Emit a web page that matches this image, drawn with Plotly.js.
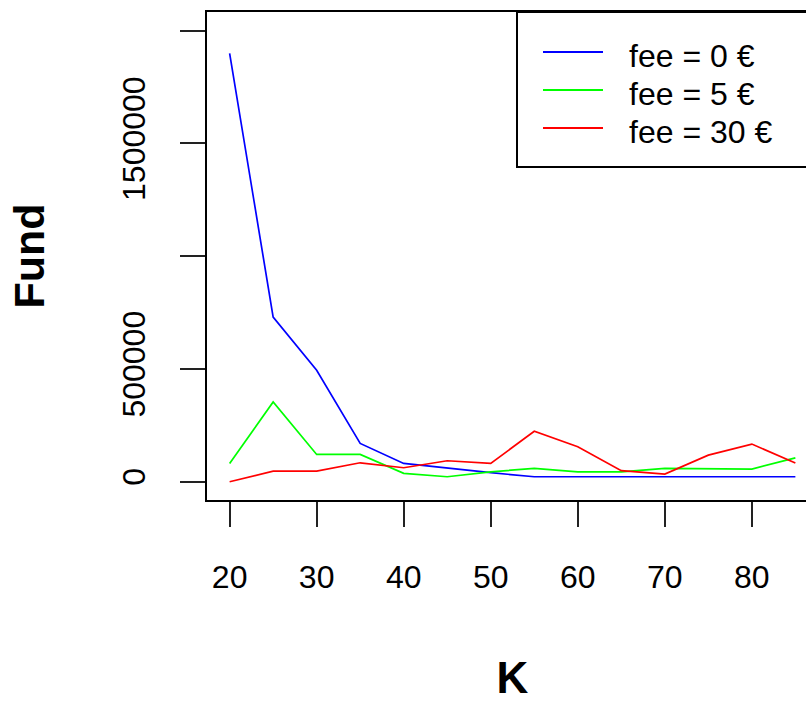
<!DOCTYPE html>
<html>
<head>
<meta charset="utf-8">
<script src="https://cdn.plot.ly/plotly-3.0.1.min.js"></script>
<style>
html,body{margin:0;padding:0;overflow:hidden;background:#fff;}
#chart{width:830px;height:706px;}
</style>
</head>
<body>
<div id="chart"></div>
<script>
// ---- data ----
const K = [20, 25, 30, 35, 40, 45, 50, 55, 60, 65, 70, 75, 80, 85];
const fee0 = [1900000, 730000, 494000, 170000, 81000, 59000, 40000, 22000, 22000, 22000, 22000, 22000, 22000, 22000];
const fee5 = [81000, 354000, 121000, 121000, 37000, 22000, 44000, 59000, 44000, 44000, 59000, 59000, 56000, 106000];
const fee30 = [0, 47000, 47000, 84000, 62000, 93000, 81000, 224000, 155000, 49000, 34000, 118000, 167000, 83000];
const seriesNames = ['fee = 0 €', 'fee = 5 €', 'fee = 30 €'];
const seriesColors = ['#0000FF', '#00FF00', '#FF0000'];
const yTickVals = [0, 500000, 1000000, 1500000, 2000000];
const yTickText = ['0', '500000', '', '1500000', ''];
const xTickVals = [20, 30, 40, 50, 60, 70, 80];

// ---- layout geometry ----
const W = 830, H = 706;
const M = {l: 207, r: 12, t: 12, b: 206};
const PW = W - M.l - M.r, PH = H - M.t - M.b;
const px = x => (x - M.l) / PW;
const py = y => (H - M.b - y) / PH;

const allSeries = [fee0, fee5, fee30];
const traces = allSeries.map((ys, i) => ({
  x: K, y: ys, type: 'scatter', mode: 'lines', name: seriesNames[i],
  line: {color: seriesColors[i], width: 1.7}, showlegend: false, hoverinfo: 'skip'
}));

// legend (R style box)
const shapes = [
  {type: 'rect', xref: 'paper', yref: 'paper', x0: px(517), x1: 1.05, y0: py(167), y1: 1,
   line: {color: '#000', width: 2}, fillcolor: 'rgba(0,0,0,0)'}
];
const annotations = [];
seriesNames.forEach((name, i) => {
  const yy = 52 + i * 38;
  shapes.push({type: 'line', xref: 'paper', yref: 'paper', x0: px(543), x1: px(603), y0: py(yy), y1: py(yy),
    line: {color: seriesColors[i], width: 2}});
  annotations.push({xref: 'paper', yref: 'paper', x: px(627), y: py(yy + 4), xanchor: 'left', yanchor: 'middle',
    text: name, showarrow: false, font: {family: 'Liberation Sans, Arial, sans-serif', size: 32, color: '#000'}});
});

const tickFont = {family: 'Liberation Sans, Arial, sans-serif', size: 32, color: '#000'};
const layout = {
  width: W, height: H, margin: M, paper_bgcolor: '#fff', plot_bgcolor: '#fff',
  xaxis: {
    range: [17.4, 87.6], tickvals: xTickVals, ticks: 'outside', ticklen: 25, tickwidth: 2, tickcolor: '#222',
    showgrid: false, zeroline: false, showline: true, linecolor: '#000', linewidth: 2, mirror: true,
    tickfont: tickFont, ticklabelstandoff: 23,
    title: {text: '<b>K</b>', font: {family: 'Liberation Sans, Arial, sans-serif', size: 44, color: '#000'}, standoff: 68}
  },
  yaxis: {
    range: [-81000, 2083000], tickvals: yTickVals, ticktext: yTickText, tickangle: -90,
    ticks: 'outside', ticklen: 25, tickwidth: 2, tickcolor: '#222',
    showgrid: false, zeroline: false, showline: true, linecolor: '#000', linewidth: 2, mirror: true,
    tickfont: tickFont, ticklabelstandoff: 22,
    title: {text: '<b>Fund</b>', font: {family: 'Liberation Sans, Arial, sans-serif', size: 43, color: '#000'}, standoff: 58}
  },
  shapes: shapes, annotations: annotations, showlegend: false
};
Plotly.newPlot('chart', traces, layout, {displayModeBar: false, staticPlot: true});
</script>
</body>
</html>
